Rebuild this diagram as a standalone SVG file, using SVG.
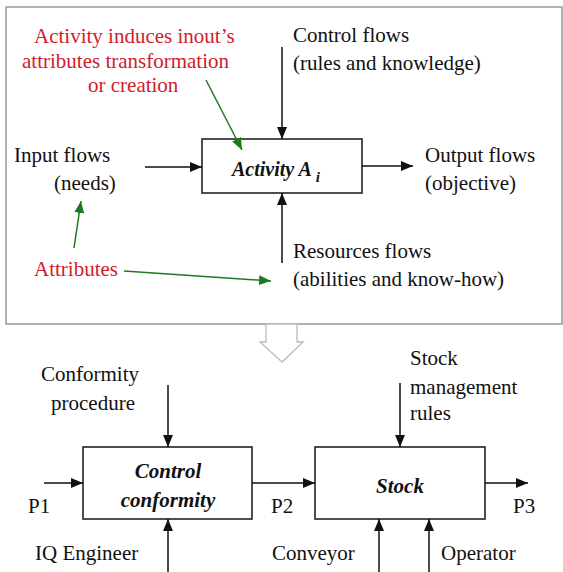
<svg xmlns="http://www.w3.org/2000/svg" width="563" height="572" viewBox="0 0 563 572" font-family="'Liberation Serif', Tinos, 'DejaVu Serif', 'Times New Roman', serif">
<style>
text{font-family:'Liberation Serif', Tinos, 'DejaVu Serif', 'Times New Roman', serif;font-size:21px}
.t{fill:#111}
.r{fill:#d0202c}
.b{font-weight:bold;font-style:italic;fill:#111}
.box{fill:#fff;stroke:#222;stroke-width:1.6}
.k{stroke:#111;stroke-width:1.5;fill:none}
.g{stroke:#1f7a1f;stroke-width:1.5;fill:none}
</style>
<defs>
<marker id="ak" markerUnits="userSpaceOnUse" markerWidth="13" markerHeight="11" refX="12" refY="5" orient="auto"><path d="M0,0 L12,5 L0,10 z" fill="#111"/></marker>
<marker id="ag" markerUnits="userSpaceOnUse" markerWidth="13" markerHeight="11" refX="12" refY="5" orient="auto"><path d="M0,0 L12,5 L0,10 z" fill="#1f7a1f"/></marker>
</defs>
<rect width="563" height="572" fill="#fff"/>
<g id="panel">
<rect x="6" y="7" width="556" height="317" fill="#fff" stroke="#999" stroke-width="1.5"/>
<polygon points="266,324 266,342 260,342 282,362 303,342 297,342 297,324" fill="#fff" stroke="#bbb" stroke-width="1.3"/>
</g>
<g id="activity">
<rect class="box" x="202" y="139" width="160" height="54"/>
<text class="b" x="232" y="176" style="font-size:20px">Activity A<tspan dx="4" dy="6" style="font-size:15px">i</tspan></text>
</g>
<g id="labels-top">
<text class="r" x="34" y="43">Activity induces inout’s</text>
<text class="r" x="22" y="68">attributes transformation</text>
<text class="r" x="88" y="92">or creation</text>
<text class="t" x="293" y="42">Control flows</text>
<text class="t" x="293" y="70">(rules and knowledge)</text>
<text class="t" x="14" y="162">Input flows</text>
<text class="t" x="54" y="190">(needs)</text>
<text class="t" x="425" y="162">Output flows</text>
<text class="t" x="425" y="190">(objective)</text>
<text class="t" x="293" y="258">Resources flows</text>
<text class="t" x="293" y="286">(abilities and know-how)</text>
<text class="r" x="34" y="276">Attributes</text>
</g>
<g id="control-conformity">
<rect class="box" x="83" y="447" width="169" height="72"/>
<text class="b" x="168" y="478" text-anchor="middle">Control</text>
<text class="b" x="168" y="507" text-anchor="middle">conformity</text>
</g>
<g id="stock">
<rect class="box" x="315" y="447" width="170" height="72"/>
<text class="b" x="400" y="493" text-anchor="middle">Stock</text>
</g>
<g id="labels-bottom">
<text class="t" x="41" y="381">Conformity</text>
<text class="t" x="51" y="410">procedure</text>
<text class="t" x="28" y="513">P1</text>
<text class="t" x="271" y="513">P2</text>
<text class="t" x="513" y="513">P3</text>
<text class="t" x="35" y="560">IQ Engineer</text>
<text class="t" x="410" y="365">Stock</text>
<text class="t" x="410" y="394">management</text>
<text class="t" x="410" y="420">rules</text>
<text class="t" x="272" y="560">Conveyor</text>
<text class="t" x="441" y="560">Operator</text>
</g>
<g id="connectors">
<line class="k" x1="282" y1="47" x2="282" y2="139" marker-end="url(#ak)"/>
<line class="k" x1="145" y1="167" x2="202" y2="167" marker-end="url(#ak)"/>
<line class="k" x1="362" y1="166" x2="413" y2="166" marker-end="url(#ak)"/>
<line class="k" x1="282" y1="263" x2="282" y2="193" marker-end="url(#ak)"/>
<line class="g" x1="206" y1="80" x2="242" y2="150" marker-end="url(#ag)"/>
<line class="g" x1="74" y1="248" x2="81" y2="201" marker-end="url(#ag)"/>
<line class="g" x1="124" y1="271" x2="271" y2="281" marker-end="url(#ag)"/>
<line class="k" x1="168" y1="385" x2="168" y2="447" marker-end="url(#ak)"/>
<line class="k" x1="168" y1="572" x2="168" y2="519" marker-end="url(#ak)"/>
<line class="k" x1="44" y1="483" x2="83" y2="483" marker-end="url(#ak)"/>
<line class="k" x1="252" y1="483" x2="315" y2="483" marker-end="url(#ak)"/>
<line class="k" x1="485" y1="483" x2="528" y2="483" marker-end="url(#ak)"/>
<line class="k" x1="400" y1="383" x2="400" y2="447" marker-end="url(#ak)"/>
<line class="k" x1="379" y1="572" x2="379" y2="519" marker-end="url(#ak)"/>
<line class="k" x1="429" y1="572" x2="429" y2="519" marker-end="url(#ak)"/>
</g>
</svg>
